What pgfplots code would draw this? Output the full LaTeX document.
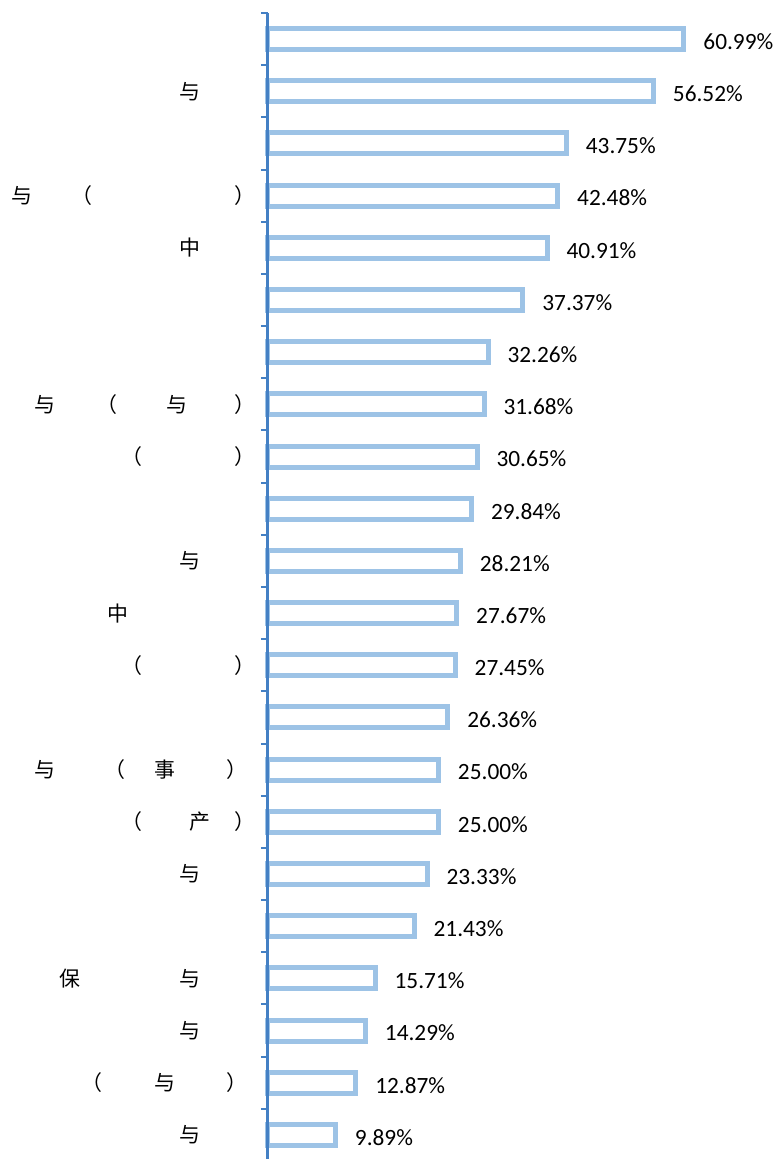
\documentclass[border=0pt]{standalone}
\usepackage{fontspec}
\setmainfont{Carlito}
\newfontfamily\cjk{Noto Sans CJK SC}
\usepackage{pgfplots}
\pgfplotsset{compat=1.18}
\definecolor{barblue}{RGB}{157,195,230}
\definecolor{axblue}{RGB}{68,128,196}
% one CJK glyph, its box starting #1 bp from the left of the label
\newcommand\ch[2]{\makebox[0pt][l]{\hspace*{#1bp}\fontsize{21}{21}\selectfont\cjk #2}}
\newcommand\lab[1]{\makebox[260bp][l]{#1}}
\begin{document}
\begin{tikzpicture}
\begin{axis}[
    name=ax,
    scale only axis,
    width=511.5bp, height=1148bp,
    xbar, bar width=21bp,
    xmin=0, xmax=75,
    ymin=-0.5, ymax=21.5,
    axis x line=none,
    axis y line=left,
    axis line style={-, draw=axblue, line width=3bp},
    every outer y axis line/.append style={-, draw=axblue, line width=3bp},
    axis on top,
    ytick={0,...,21},
    minor ytick={-0.5,0.5,...,21.5},
    major tick length=0pt,
    minor tick length=7bp,
    tick align=outside,
    ytick pos=left,
    minor tick style={axblue, line width=2bp},
    yticklabel style={anchor=east, inner sep=0pt, xshift=-8bp},
    yticklabels={
      {\lab{\ch{180}{与}}},
      {\lab{\ch{82}{（}\ch{155}{与}\ch{227}{）}}},
      {\lab{\ch{180}{与}}},
      {\lab{\ch{60}{保}\ch{180}{与}}},
      {\lab{}},
      {\lab{\ch{180}{与}}},
      {\lab{\ch{122}{（}\ch{190}{产}\ch{235}{）}}},
      {\lab{\ch{35}{与}\ch{105}{（}\ch{155}{事}\ch{227}{）}}},
      {\lab{}},
      {\lab{\ch{122}{（}\ch{235}{）}}},
      {\lab{\ch{108}{中}}},
      {\lab{\ch{180}{与}}},
      {\lab{}},
      {\lab{\ch{122}{（}\ch{235}{）}}},
      {\lab{\ch{35}{与}\ch{97}{（}\ch{167}{与}\ch{235}{）}}},
      {\lab{}},
      {\lab{}},
      {\lab{\ch{180}{中}}},
      {\lab{\ch{12}{与}\ch{72}{（}\ch{235}{）}}},
      {\lab{}},
      {\lab{\ch{180}{与}}},
      {\lab{}}
    },
    /pgf/number format/assume math mode=true,
    nodes near coords={\pgfmathprintnumber[fixed,fixed zerofill,precision=2]{\pgfplotspointmeta}\%},
    every node near coord/.append style={anchor=west, inner sep=0pt, xshift=17bp, yshift=-2.5bp,
        font=\fontsize{23.4}{28}\selectfont, text=black},
    clip=false,
]
\addplot[draw=barblue, fill=white, line width=5bp] coordinates {
    (60.99,21) (56.52,20) (43.75,19) (42.48,18) (40.91,17) (37.37,16)
    (32.26,15) (31.68,14) (30.65,13) (29.84,12) (28.21,11) (27.67,10)
    (27.45,9) (26.36,8) (25.00,7) (25.00,6) (23.33,5) (21.43,4)
    (15.71,3) (14.29,2) (12.87,1) (9.89,0)
};
\end{axis}
\pgfresetboundingbox
\path ([shift={(-268bp,2bp)}]ax.south west) rectangle ([shift={(508bp,1161bp)}]ax.south west);
\end{tikzpicture}
\end{document}
